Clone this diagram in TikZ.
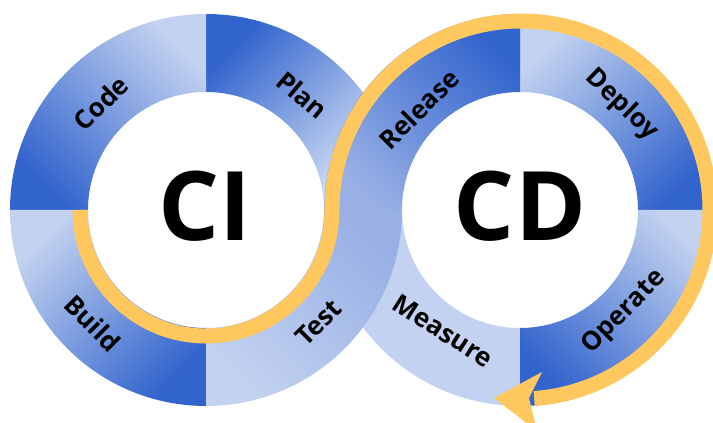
\documentclass[tikz,border=0pt]{standalone}
\usepackage{fontspec}
\setmainfont{Open Sans}
\usetikzlibrary{calc}

\definecolor{ringdark}{RGB}{50,100,205}
\definecolor{ringmid}{RGB}{152,176,229}
\definecolor{ringlight}{RGB}{195,210,240}
\definecolor{ringpale}{RGB}{228,235,249}
\definecolor{flowyellow}{RGB}{255,200,95}

% one quarter of a ring: centre, start angle, end angle, inner and outer radius
\newcommand{\ringseg}[5]{($(#1)+(#2:#5)$) arc[start angle=#2, end angle=#3, radius=#5] -- ($(#1)+(#3:#4)$) arc[start angle=#3, end angle=#2, radius=#4] -- cycle}

\tikzset{
  lab/.style={font=\fontsize{26}{26}\selectfont\bfseries, inner sep=0pt},
  big/.style={font=\fontsize{96}{96}\selectfont\bfseries, inner sep=0pt},
  flow/.style={draw=flowyellow, line width=15pt},
}

\begin{document}
\begin{tikzpicture}[x=1pt,y=1pt]
\useasboundingbox (0,0) rectangle (713,423);
\coordinate (ci) at (206,213);
\coordinate (cd) at (520,213);

% the parts that go under the crossing band
\shade[top color=ringpale, bottom color=ringdark, shading angle=-135] \ringseg{ci}{0}{90}{118}{196};
\fill[ringlight] \ringseg{cd}{180}{270}{118}{196};
\shade[top color=ringlight, bottom color=ringdark, shading angle=-45] \ringseg{ci}{90}{180}{118}{196};
\shade[top color=ringdark, bottom color=ringlight, shading angle=-135] \ringseg{ci}{180}{270}{118}{196};
\shade[top color=ringdark, bottom color=ringlight, shading angle=-135] \ringseg{cd}{0}{90}{118}{196};
\shade[top color=ringdark, bottom color=ringlight, shading angle=135] \ringseg{cd}{270}{360}{118}{196};
% the crossing band
\shade[top color=ringdark, bottom color=ringmid, shading angle=-45] \ringseg{cd}{90}{180}{118}{196};
\shade[top color=ringlight, bottom color=ringmid, shading angle=135] \ringseg{ci}{270}{360}{118}{196};

% yellow flow line and its head
\draw[flow] ($(ci)+(180:126)$) arc[start angle=180, end angle=360, radius=126]
  arc[start angle=180, end angle=-86, radius=189];
\coordinate (tip) at (494,25);
\coordinate (headup) at (542,51);
\coordinate (notch) at (529,25);
\coordinate (headdown) at (537,-8);
\fill[flowyellow] (tip) -- (headup) -- (notch) -- (headdown) -- cycle;

% labels
\node[big] (cilabel) at (205,217) {CI};
\node[big] (cdlabel) at (520,217) {CD};
\node[lab, rotate=44.5] (code) at ($(ci)+(134.5:150)$) {Code};
\node[lab, rotate=-40] (plan) at ($(ci)+(50:150)$) {Plan};
\node[lab, rotate=-45] (build) at ($(ci)+(225:160)$) {Build};
\node[lab, rotate=45] (test) at ($(ci)+(315:159)$) {Test};
\node[lab, rotate=45] (release) at ($(cd)+(135:143)$) {Release};
\node[lab, rotate=-44] (deploy) at ($(cd)+(46:146)$) {Deploy};
\node[lab, rotate=45.5] (operate) at ($(cd)+(315.5:146)$) {Operate};
\node[lab, rotate=-32.5] (measure) at ($(cd)+(237.5:143)$) {Measure};
\end{tikzpicture}
\end{document}
